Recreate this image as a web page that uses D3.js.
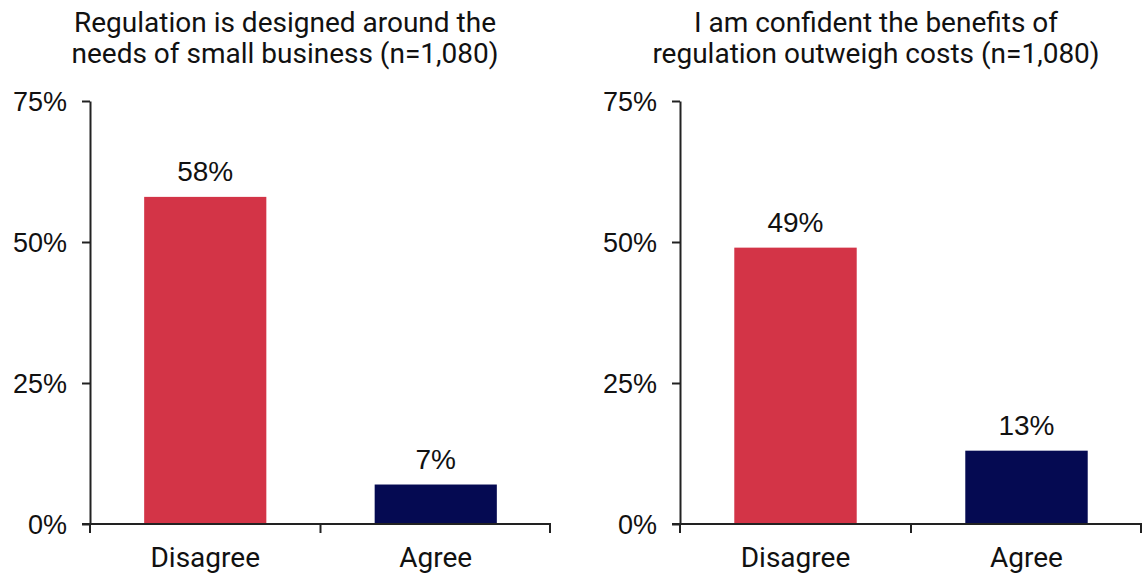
<!DOCTYPE html>
<html>
<head>
<meta charset="utf-8">
<script src="https://cdn.jsdelivr.net/npm/d3@7/dist/d3.min.js"></script>
<style>
  html, body { margin: 0; padding: 0; background: #fff; }
  svg { display: block; }
</style>
</head>
<body>
<svg id="chart" width="1142" height="573"></svg>
<script>
// Survey results, two questions answered by the same respondents
const categories = ["Disagree", "Agree"];
const titles = [
  ["Regulation is designed around the", "needs of small business (n=1,080)"],
  ["I am confident the benefits of", "regulation outweigh costs (n=1,080)"]
];
const seriesValues = [
  [58, 7],
  [49, 13]
];
const tickValues = [0, 25, 50, 75];
const barColors = ["#D33447", "#050A52"];

const svg = d3.select("#chart");
const titleFont = "Roboto, 'Open Sans', sans-serif";
const numFont = "'Liberation Sans', Arial, sans-serif";

const panels = [
  { x0: 90, x1: 551, titleX: 285 },
  { x0: 680, x1: 1142, titleX: 876 }
];

const y = d3.scaleLinear().domain([0, 75]).range([524, 101]);

panels.forEach((p, i) => {
  const g = svg.append("g");
  const x = d3.scaleBand().domain(categories).range([p.x0, p.x1]).paddingInner(0).paddingOuter(0);
  const barW = x.bandwidth() * 0.53;

  // title
  const t = g.append("text")
    .attr("text-anchor", "middle")
    .attr("font-family", titleFont)
    .attr("font-size", 28)
    .attr("fill", "#111");
  titles[i].forEach((line, k) => {
    t.append("tspan").attr("x", p.titleX).attr("y", 32 + k * 31).text(line);
  });

  // bars
  g.selectAll("rect.bar")
    .data(categories.map((c, k) => ({ c, v: seriesValues[i][k], k })))
    .join("rect")
    .attr("class", "bar")
    .attr("x", d => x(d.c) + (x.bandwidth() - barW) / 2)
    .attr("width", barW)
    .attr("y", d => y(d.v))
    .attr("height", d => y(0) - y(d.v))
    .attr("fill", d => barColors[d.k]);

  // value labels
  g.selectAll("text.val")
    .data(categories.map((c, k) => ({ c, v: seriesValues[i][k] })))
    .join("text")
    .attr("class", "val")
    .attr("x", d => x(d.c) + x.bandwidth() / 2)
    .attr("y", d => y(d.v) - 16)
    .attr("text-anchor", "middle")
    .attr("font-family", numFont)
    .attr("font-size", 28)
    .attr("fill", "#111")
    .text(d => d.v + "%");

  // y axis
  const yAxis = d3.axisLeft(y).tickValues(tickValues).tickSize(8).tickSizeOuter(0)
    .tickFormat(d => d + "%");
  const ya = g.append("g").attr("transform", `translate(${p.x0},0)`).call(yAxis);
  ya.select(".domain").attr("stroke", "#222").attr("stroke-width", 2);
  ya.selectAll(".tick line").attr("stroke", "#222").attr("stroke-width", 2);
  ya.selectAll(".tick text")
    .attr("font-family", numFont)
    .attr("font-size", 27)
    .attr("fill", "#111")
    .attr("x", -23)
    .attr("dy", "0.35em");

  // x axis with ticks at category boundaries
  const xa = g.append("g").attr("transform", `translate(0,${y(0)})`);
  xa.append("line")
    .attr("x1", p.x0 - 8).attr("x2", p.x1)
    .attr("stroke", "#222").attr("stroke-width", 2);
  const bounds = [p.x0, x(categories[1]), p.x1 - 1];
  xa.selectAll("line.tk").data(bounds).join("line")
    .attr("class", "tk")
    .attr("x1", d => d).attr("x2", d => d)
    .attr("y1", 0).attr("y2", 9)
    .attr("stroke", "#222").attr("stroke-width", 2);
  xa.selectAll("text.cat").data(categories).join("text")
    .attr("class", "cat")
    .attr("x", d => x(d) + x.bandwidth() / 2)
    .attr("y", 43)
    .attr("text-anchor", "middle")
    .attr("font-family", titleFont)
    .attr("font-size", 28)
    .attr("fill", "#111")
    .text(d => d);
});
</script>
</body>
</html>
